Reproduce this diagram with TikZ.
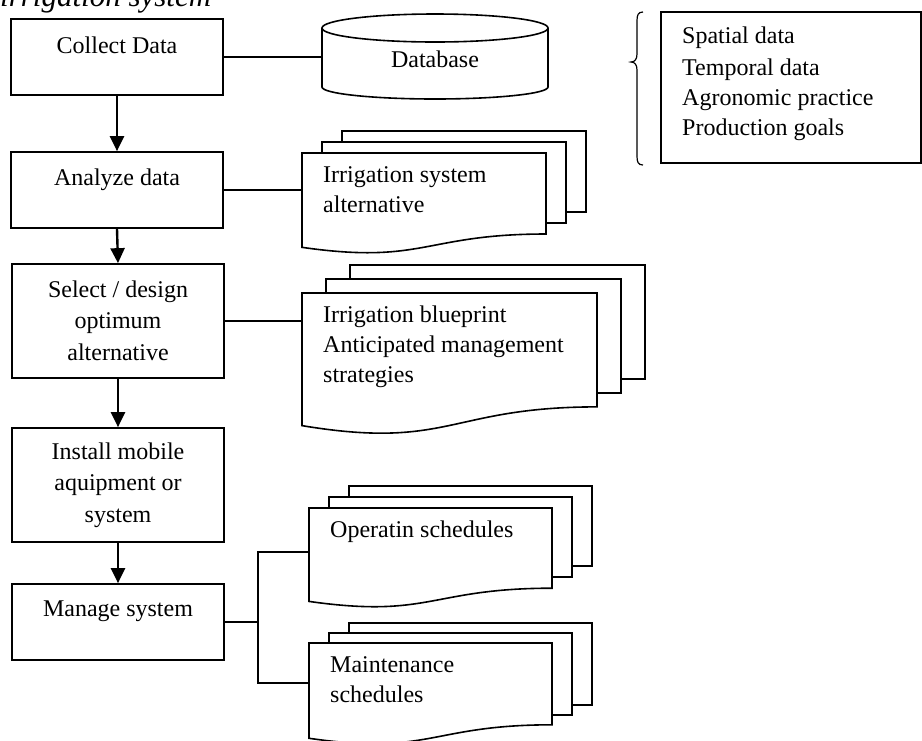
\documentclass[tikz,border=0pt]{standalone}
\usepackage{fontspec}
\setmainfont{Liberation Serif}
\usetikzlibrary{arrows.meta}
\newcommand\mdocshape[6]{% L T W H dx dy
  \draw[docline] ({#1+2*#5},{#2+2*#6}) rectangle ({#1+#3+2*#5},{#2+0.802*#4+2*#6});
  \draw[docline] ({#1+#5},{#2+#6}) rectangle ({#1+#3+#5},{#2+0.802*#4+#6});
  \draw[docline] (#1,#2) -- ({#1+#3},#2) -- ({#1+#3},{#2+0.802*#4})
    .. controls ({#1+0.5*#3},{#2+0.802*#4}) and ({#1+0.5*#3},{#2+1.107*#4}) .. (#1,{#2+0.934*#4}) -- cycle;
}
\begin{document}
\begin{tikzpicture}[x=1pt,y=-1pt,
  every node/.style={font=\fontsize{24}{30}\selectfont, inner sep=0pt},
  box/.style={draw, line width=1.7pt, minimum width=212pt, inner sep=0pt},
  txt/.style={anchor=base},
  ltxt/.style={anchor=base west},
  conn/.style={line width=1.5pt},
  arr/.style={line width=2.4pt, -{Triangle[length=15pt,width=14pt]}},
  docline/.style={draw, fill=white, line width=1.6pt, line join=miter},
  cyl/.style={line width=1.6pt}]
\useasboundingbox (0,0) rectangle (922,740);
\begin{scope}
\clip (0,0) rectangle (922,740);

% title (cut at top, as in the reference)
\node[ltxt, font=\fontsize{31}{36}\selectfont\itshape] (title) at (0,6) {irrigation system};

% process boxes
\node[box, minimum height=76pt] (c1) at (117,57) {};
\node[box, minimum height=76pt] (c2) at (117,190) {};
\node[box, minimum height=114pt] (c3) at (118,321) {};
\node[box, minimum height=114pt] (c4) at (118,485) {};
\node[box, minimum height=76pt] (c5) at (118,622) {};

\node[txt] (t1) at (117,53) {Collect Data};
\node[txt] (t2) at (117,185) {Analyze data};
\node[txt] (t3a) at (118,297) {Select / design};
\node[txt] (t3b) at (118,328) {optimum};
\node[txt] (t3c) at (118,360) {alternative};
\node[txt] (t4a) at (118,459) {Install mobile};
\node[txt] (t4b) at (118,490) {aquipment or};
\node[txt] (t4c) at (118,522) {system};
\node[txt] (t5) at (118,616) {Manage system};

% arrows
\draw[arr] (c1.south) -- (c2.north);
\draw[arr] (c2.south) -- (c3.north);
\draw[arr] (c3.south) -- (c4.north);
\draw[arr] (c4.south) -- (c5.north);

% connection points
\coordinate (dbw) at (322,57);
\coordinate (d1w) at (302,190);
\coordinate (d2w) at (302,321);
\coordinate (jn) at (258,622);
\coordinate (d3w) at (309,552);
\coordinate (d4w) at (309,683);

% connectors
\draw[conn] (c1.east) -- (c1.east -| dbw);
\draw[conn] (c2.east) -- (c2.east -| d1w);
\draw[conn] (c3.east) -- (c3.east -| d2w);
\draw[conn] (c5.east) -- (jn);
\draw[conn] (d3w) -- (d3w -| jn) -- (d4w -| jn) -- (d4w);

% database cylinder
\draw[cyl] (435,28) ellipse [x radius=113pt, y radius=14pt];
\draw[cyl] (322,28) -- (322,87)
  .. controls (322,93.6) and (372.6,99) .. (435,99)
  .. controls (497.4,99) and (548,93.6) .. (548,87) -- (548,28);
\node[txt] (db) at (435,67) {Database};

% document stacks
\mdocshape{302}{153}{244}{101}{20}{-11}
\node[ltxt] (d1a) at (323,182) {Irrigation system};
\node[ltxt] (d1b) at (323,212) {alternative};

\mdocshape{302}{293}{295}{142}{24}{-14}
\node[ltxt] (d2a) at (323,322) {Irrigation blueprint};
\node[ltxt] (d2b) at (323,352) {Anticipated management};
\node[ltxt] (d2c) at (323,382) {strategies};

\mdocshape{309}{508}{243}{100}{20}{-11}
\node[ltxt] (d3a) at (330,537) {Operatin schedules};

\mdocshape{309}{643}{243}{102}{20}{-10}
\node[ltxt] (d4a) at (330,672) {Maintenance};
\node[ltxt] (d4b) at (330,702) {schedules};

% brace and data box
\draw[line width=1.2pt] (643,12) .. controls (638,12) and (637,15) .. (637,21)
  -- (637,54) .. controls (637,59) and (635,62) .. (631,62)
  .. controls (635,62) and (637,65) .. (637,70)
  -- (637,156) .. controls (637,162) and (638,165) .. (643,165);
\draw[line width=1.7pt] (661,12) rectangle (921,163);
\node[ltxt] (s1) at (682,43) {Spatial data};
\node[ltxt] (s2) at (682,75) {Temporal data};
\node[ltxt] (s3) at (682,105) {Agronomic practice};
\node[ltxt] (s4) at (682,135) {Production goals};
\end{scope}
\end{tikzpicture}
\end{document}
